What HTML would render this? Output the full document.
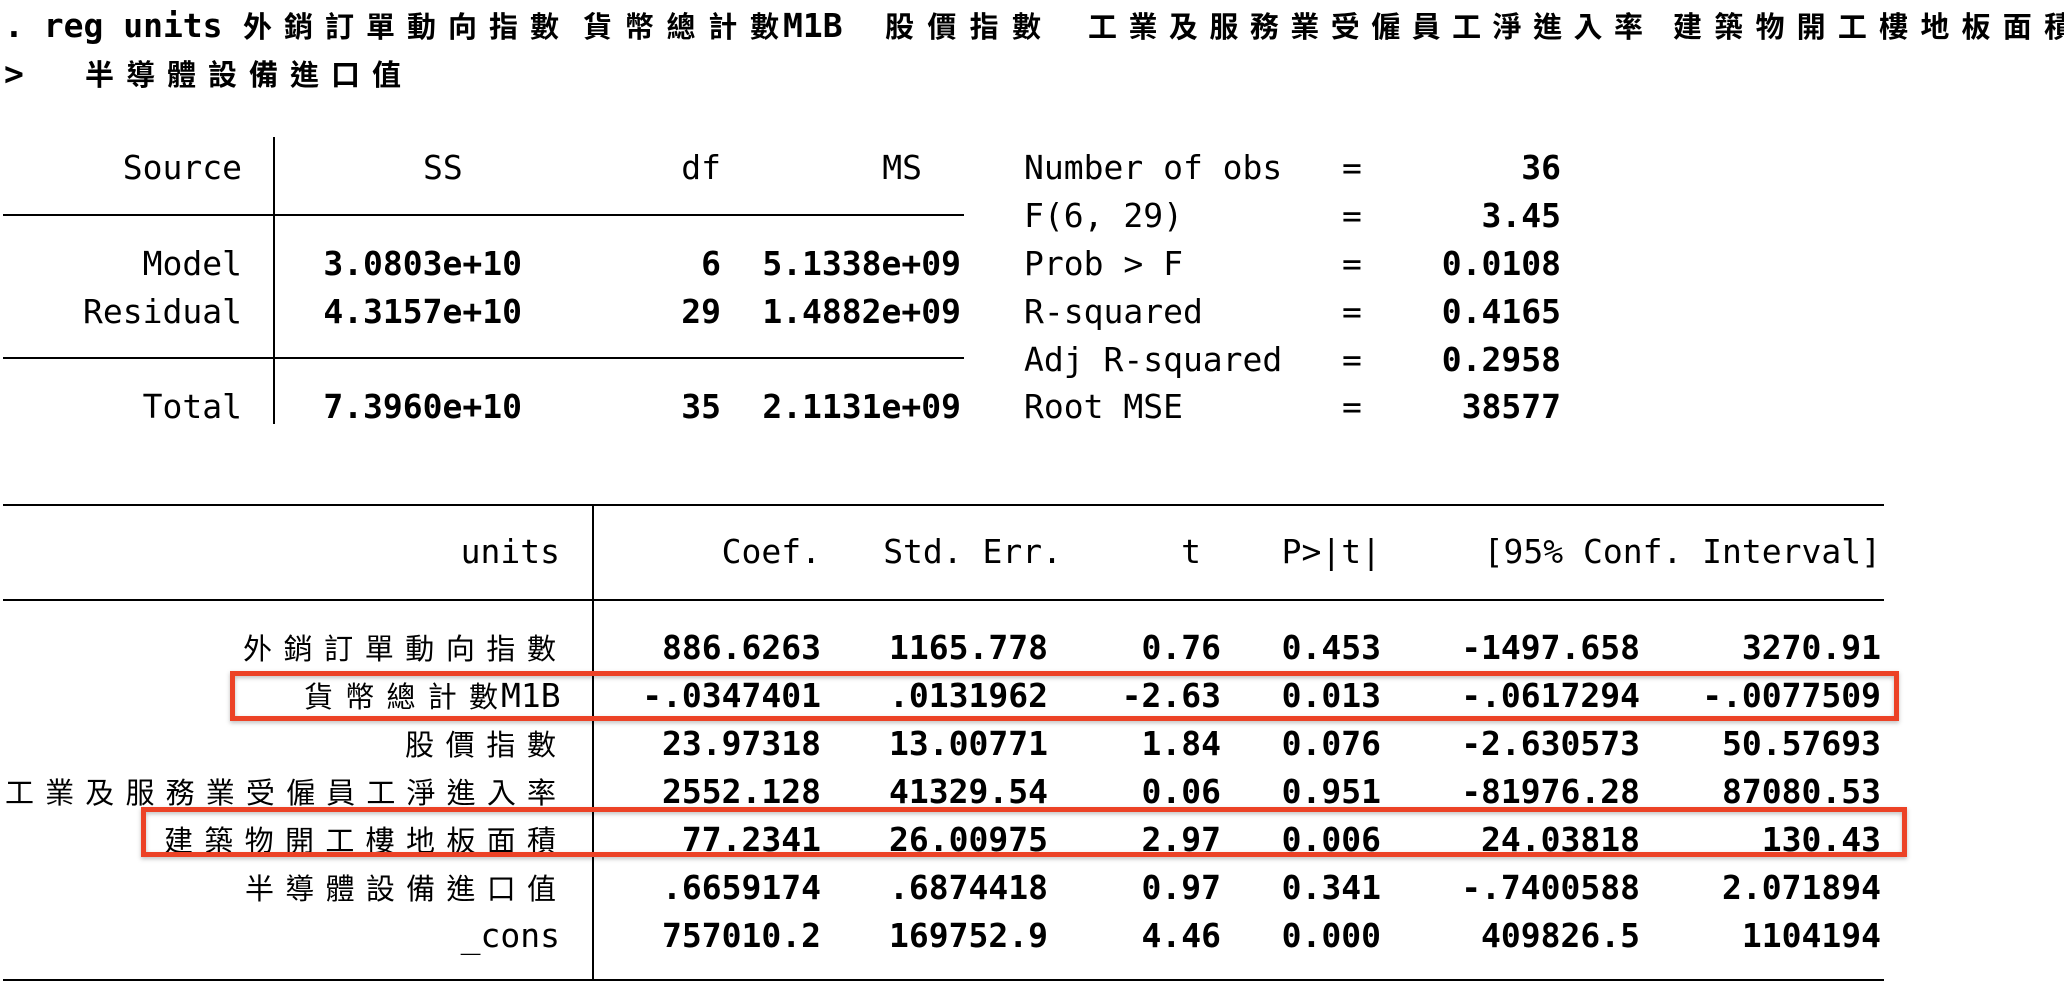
<!DOCTYPE html>
<html><head><meta charset="utf-8"><style>
html,body{margin:0;padding:0;background:#fff;width:2064px;height:1004px;overflow:hidden}
svg{display:block}
text{font-family:"DejaVu Sans Mono","Liberation Mono","Noto Sans CJK TC",monospace;font-size:33px;fill:#000}
.b{font-weight:bold}
.cjk{font-family:"Noto Sans CJK TC","WenQuanYi Zen Hei",sans-serif;font-size:29px}
.e{text-anchor:end}
</style></head><body>
<svg width="2064" height="1004" viewBox="0 0 2064 1004">
<defs><filter id="sh" x="-5%" y="-20%" width="110%" height="140%"><feDropShadow dx="0" dy="2" stdDeviation="2" flood-color="#000" flood-opacity="0.25"/></filter></defs>
<g transform="translate(0,4)">
<g>
<text class="b" x="4" y="33">. reg units</text>
<text class="b cjk" x="243" y="33" textLength="316" lengthAdjust="spacing">外銷訂單動向指數</text>
<text class="b cjk" x="583" y="33" textLength="196" lengthAdjust="spacing">貨幣總計數</text>
<text class="b" x="783" y="33">M1B</text>
<text class="b cjk" x="885" y="33" textLength="156" lengthAdjust="spacing">股價指數</text>
<text class="b cjk" x="1088" y="33" textLength="555" lengthAdjust="spacing">工業及服務業受僱員工淨進入率</text>
<text class="b cjk" x="1673" y="33" textLength="400" lengthAdjust="spacing">建築物開工樓地板面積</text>
<text class="b" x="4" y="81">&gt;</text>
<text class="b cjk" x="85" y="81" textLength="316" lengthAdjust="spacing">半導體設備進口值</text>
</g>
<g>
<text class="e" x="242" y="175">Source</text>
<text x="423" y="175">SS</text>
<text class="e" x="721" y="175">df</text>
<text class="e" x="922" y="175">MS</text>
<text class="e" x="242" y="271">Model</text>
<text class="e" x="242" y="319">Residual</text>
<text class="e" x="242" y="414">Total</text>
<text class="b e" x="522" y="271">3.0803e+10</text>
<text class="b e" x="522" y="319">4.3157e+10</text>
<text class="b e" x="522" y="414">7.3960e+10</text>
<text class="b e" x="721" y="271">6</text>
<text class="b e" x="721" y="319">29</text>
<text class="b e" x="721" y="414">35</text>
<text class="b e" x="961" y="271">5.1338e+09</text>
<text class="b e" x="961" y="319">1.4882e+09</text>
<text class="b e" x="961" y="414">2.1131e+09</text>
</g>
<g>
<text x="1024" y="175">Number of obs</text><text x="1342" y="175">=</text><text class="b e" x="1561" y="175">36</text>
<text x="1024" y="223">F(6, 29)</text><text x="1342" y="223">=</text><text class="b e" x="1561" y="223">3.45</text>
<text x="1024" y="271">Prob &gt; F</text><text x="1342" y="271">=</text><text class="b e" x="1561" y="271">0.0108</text>
<text x="1024" y="319">R-squared</text><text x="1342" y="319">=</text><text class="b e" x="1561" y="319">0.4165</text>
<text x="1024" y="367">Adj R-squared</text><text x="1342" y="367">=</text><text class="b e" x="1561" y="367">0.2958</text>
<text x="1024" y="414">Root MSE</text><text x="1342" y="414">=</text><text class="b e" x="1561" y="414">38577</text>
</g>
<g>
<text class="e" x="560" y="559">units</text>
<text class="e" x="821" y="559">Coef.</text>
<text class="e" x="1062" y="559">Std. Err.</text>
<text class="e" x="1201" y="559">t</text>
<text class="e" x="1381" y="559">P&gt;|t|</text>
<text class="e" x="1881" y="559">[95% Conf. Interval]</text>
</g>
<g>
<text class="cjk" x="243" y="655" textLength="313" lengthAdjust="spacing">外銷訂單動向指數</text>
<text class="cjk" x="304" y="703" textLength="194" lengthAdjust="spacing">貨幣總計數</text><text x="501" y="703">M1B</text>
<text class="cjk" x="405" y="751" textLength="151" lengthAdjust="spacing">股價指數</text>
<text class="cjk" x="5" y="799" textLength="551" lengthAdjust="spacing">工業及服務業受僱員工淨進入率</text>
<text class="cjk" x="164" y="847" textLength="392" lengthAdjust="spacing">建築物開工樓地板面積</text>
<text class="cjk" x="245" y="895" textLength="311" lengthAdjust="spacing">半導體設備進口值</text>
<text class="e" x="560" y="943">_cons</text>
</g>
<g>
<text class="b e" x="821" y="655">886.6263</text><text class="b e" x="1048" y="655">1165.778</text><text class="b e" x="1221" y="655">0.76</text><text class="b e" x="1381" y="655">0.453</text><text class="b e" x="1640" y="655">-1497.658</text><text class="b e" x="1881" y="655">3270.91</text>
<text class="b e" x="821" y="703">-.0347401</text><text class="b e" x="1048" y="703">.0131962</text><text class="b e" x="1221" y="703">-2.63</text><text class="b e" x="1381" y="703">0.013</text><text class="b e" x="1640" y="703">-.0617294</text><text class="b e" x="1881" y="703">-.0077509</text>
<text class="b e" x="821" y="751">23.97318</text><text class="b e" x="1048" y="751">13.00771</text><text class="b e" x="1221" y="751">1.84</text><text class="b e" x="1381" y="751">0.076</text><text class="b e" x="1640" y="751">-2.630573</text><text class="b e" x="1881" y="751">50.57693</text>
<text class="b e" x="821" y="799">2552.128</text><text class="b e" x="1048" y="799">41329.54</text><text class="b e" x="1221" y="799">0.06</text><text class="b e" x="1381" y="799">0.951</text><text class="b e" x="1640" y="799">-81976.28</text><text class="b e" x="1881" y="799">87080.53</text>
<text class="b e" x="821" y="847">77.2341</text><text class="b e" x="1048" y="847">26.00975</text><text class="b e" x="1221" y="847">2.97</text><text class="b e" x="1381" y="847">0.006</text><text class="b e" x="1640" y="847">24.03818</text><text class="b e" x="1881" y="847">130.43</text>
<text class="b e" x="821" y="895">.6659174</text><text class="b e" x="1048" y="895">.6874418</text><text class="b e" x="1221" y="895">0.97</text><text class="b e" x="1381" y="895">0.341</text><text class="b e" x="1640" y="895">-.7400588</text><text class="b e" x="1881" y="895">2.071894</text>
<text class="b e" x="821" y="943">757010.2</text><text class="b e" x="1048" y="943">169752.9</text><text class="b e" x="1221" y="943">4.46</text><text class="b e" x="1381" y="943">0.000</text><text class="b e" x="1640" y="943">409826.5</text><text class="b e" x="1881" y="943">1104194</text>
</g>
</g>
<g stroke="#000" stroke-width="2">
<line x1="3" y1="215" x2="964" y2="215"/>
<line x1="3" y1="358" x2="964" y2="358"/>
<line x1="274" y1="137" x2="274" y2="424"/>
</g>
<g stroke="#000" stroke-width="2">
<line x1="3" y1="505" x2="1884" y2="505"/>
<line x1="3" y1="600" x2="1884" y2="600"/>
<line x1="3" y1="980" x2="1884" y2="980"/>
<line x1="593" y1="505" x2="593" y2="980"/>
</g>
<rect x="232.5" y="673.5" width="1664" height="45" fill="none" stroke="#ec4328" stroke-width="5" filter="url(#sh)"/>
<rect x="143.5" y="809.5" width="1761" height="45" fill="none" stroke="#ec4328" stroke-width="5" filter="url(#sh)"/>
</svg>
</body></html>
